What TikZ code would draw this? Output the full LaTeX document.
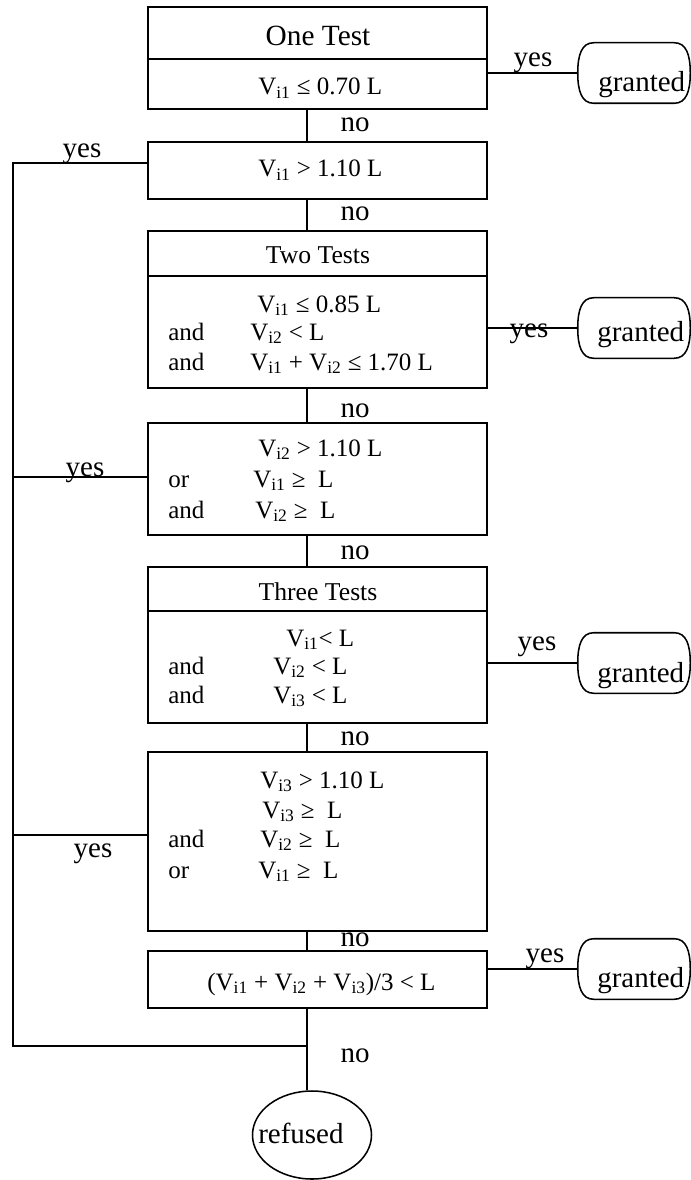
\documentclass[tikz,border=0pt]{standalone}
\usepackage{fontspec}
\setmainfont{Liberation Serif}
\usetikzlibrary{shapes.geometric}
\newcommand\Vs[1]{V\textsubscript{i#1}}
\newcommand\gsp{\hspace{0.5em}}
\tikzset{
  box/.style={draw, line width=1.15pt, minimum width=254.25pt, inner sep=0pt},
  gr/.style={minimum width=84pt, minimum height=45pt, inner sep=0pt},
  conn/.style={line width=1.15pt},
  body/.style={font=\fontsize{18.75pt}{22pt}\selectfont, inner sep=0pt, anchor=base west},
  head/.style={font=\fontsize{19.25pt}{23pt}\selectfont, inner sep=0pt, anchor=base},
  lbl/.style={font=\fontsize{21.75pt}{26pt}\selectfont, inner sep=0pt, anchor=base},
  lblw/.style={font=\fontsize{21.75pt}{26pt}\selectfont, inner sep=0pt, anchor=base west},
}
% outline of a "granted" terminal around a named node
\newcommand\grbox[1]{%
  \draw[conn] ([xshift=12pt]#1.north west) -- ([xshift=-12pt]#1.north east)
    .. controls ([xshift=-3pt]#1.north east) and ([yshift=-9pt]#1.north east) .. (#1.east)
    .. controls ([yshift=9pt]#1.south east) and ([xshift=-3pt]#1.south east) .. ([xshift=-12pt]#1.south east)
    -- ([xshift=12pt]#1.south west)
    .. controls ([xshift=3pt]#1.south west) and ([yshift=9pt]#1.south west) .. (#1.west)
    .. controls ([yshift=-9pt]#1.north west) and ([xshift=3pt]#1.north west) .. cycle;}
\begin{document}
\begin{tikzpicture}[x=0.75pt,y=-0.75pt]
\useasboundingbox (0,0) rectangle (691,1180);
\coordinate (cx) at (307,0);
% boxes
\node[box, minimum height=39pt]     (Ah) at (317.5,33)    {};
\node[box, minimum height=37.5pt]   (Ab) at (317.5,84)    {};
\node[box, minimum height=42.75pt]  (B)  at (317.5,170.5) {};
\node[box, minimum height=33.75pt]  (Ch) at (317.5,253.5) {};
\node[box, minimum height=84pt]     (Cb) at (317.5,332)   {};
\node[box, minimum height=84pt]     (D)  at (317.5,479)   {};
\node[box, minimum height=33pt]     (Eh) at (317.5,589)   {};
\node[box, minimum height=84pt]     (Eb) at (317.5,667)   {};
\node[box, minimum height=134.25pt] (F)  at (317.5,841.5) {};
\node[box, minimum height=42.75pt]  (G)  at (317.5,979.5) {};
% terminals
\node[gr] (g1) at (634,73)  {};
\node[gr] (g2) at (634,328) {};
\node[gr] (g3) at (634,663) {};
\node[gr] (g4) at (634,969) {};
\grbox{g1}\grbox{g2}\grbox{g3}\grbox{g4}
\node[draw, ellipse, line width=1.15pt, minimum width=89.25pt, minimum height=66pt, inner sep=0pt] (ref) at (312,1135) {};
% central "no" connectors
\draw[conn] (Ab.south -| cx) -- (B.north -| cx);
\draw[conn] (B.south -| cx) -- (Ch.north -| cx);
\draw[conn] (Cb.south -| cx) -- (D.north -| cx);
\draw[conn] (D.south -| cx) -- (Eh.north -| cx);
\draw[conn] (Eb.south -| cx) -- (F.north -| cx);
\draw[conn] (F.south -| cx) -- (G.north -| cx);
\draw[conn] (G.south -| cx) -- (ref.north -| cx);
% right "yes" connectors
\draw[conn] (Ab.east |- g1.west) -- (g1.west);
\draw[conn] (Cb.east |- g2.west) -- (g2.west);
\draw[conn] (Eb.east |- g3.west) -- (g3.west);
\draw[conn] (G.east |- g4.west) -- (g4.west);
% left "yes" connectors
\coordinate (L1) at (13,163);
\coordinate (L2) at (13,1046);
\draw[conn] ([yshift=5.625pt]B.west) -- (L1) -- (L2) -- (L2 -| cx);
\draw[conn] ([yshift=1.5pt]D.west) -- ([yshift=1.5pt]D.west -| L1);
\draw[conn] ([yshift=4.875pt]F.west) -- ([yshift=4.875pt]F.west -| L1);
% box texts
\node[head, font=\fontsize{22pt}{26pt}\selectfont] (tA) at (318,46) {One Test};
\node[body] (tA1) at (258,95) {\Vs1 ≤ 0.70 L};
\node[body] (tB1) at (258,177) {\Vs1 > 1.10 L};
\node[head] (tC) at (318,264) {Two Tests};
\node[body] (tC1) at (257,312) {\Vs1 ≤ 0.85 L};
\node[body] (tC2a) at (168,340) {and};
\node[body] (tC2) at (250,340) {\Vs2 < L};
\node[body] (tC3a) at (168,370) {and};
\node[body] (tC3) at (250,370) {\Vs1 + \Vs2 ≤ 1.70 L};
\node[body] (tD1) at (258,456) {\Vs2 > 1.10 L};
\node[body] (tD2a) at (168,487) {or};
\node[body] (tD2) at (253,487) {\Vs1 ≥\gsp L};
\node[body] (tD3a) at (168,518) {and};
\node[body] (tD3) at (255,518) {\Vs2 ≥\gsp L};
\node[head] (tE) at (318,600) {Three Tests};
\node[body] (tE1) at (286,646) {\Vs1< L};
\node[body] (tE2a) at (168,674) {and};
\node[body] (tE2) at (273,674) {\Vs2 < L};
\node[body] (tE3a) at (168,703) {and};
\node[body] (tE3) at (273,703) {\Vs3 < L};
\node[body] (tF1) at (260,788) {\Vs3 > 1.10 L};
\node[body] (tF2) at (262,818) {\Vs3 ≥\gsp L};
\node[body] (tF3a) at (168,847) {and};
\node[body] (tF3) at (260,847) {\Vs2 ≥\gsp L};
\node[body] (tF4a) at (168,878) {or};
\node[body] (tF4) at (258,878) {\Vs1 ≥\gsp L};
\node[body] (tG) at (207,990) {(\Vs1 + \Vs2 + \Vs3)/3 < L};
% "no" labels
\node[lbl] (n1) at (355,132)  {no};
\node[lbl] (n2) at (355,221)  {no};
\node[lbl] (n3) at (355,417)  {no};
\node[lbl] (n4) at (355,559)  {no};
\node[lbl] (n5) at (355,745)  {no};
\node[lbl] (n6) at (355,946)  {no};
\node[lbl] (n7) at (355,1062) {no};
% "yes" labels
\node[lbl] (y1) at (82,158)  {yes};
\node[lbl] (y2) at (85,476)  {yes};
\node[lbl] (y3) at (93,857)  {yes};
\node[lbl] (y4) at (533,67)  {yes};
\node[lbl] (y5) at (529,337) {yes};
\node[lbl] (y6) at (537,650) {yes};
\node[lbl] (y7) at (545,962) {yes};
% terminal texts
\node[lblw] (tg1) at (598,92)  {granted};
\node[lblw] (tg2) at (597,341) {granted};
\node[lblw] (tg3) at (597,682) {granted};
\node[lblw] (tg4) at (597,987) {granted};
\node[lblw] (tref) at (258,1143) {refused};
\end{tikzpicture}
\end{document}
